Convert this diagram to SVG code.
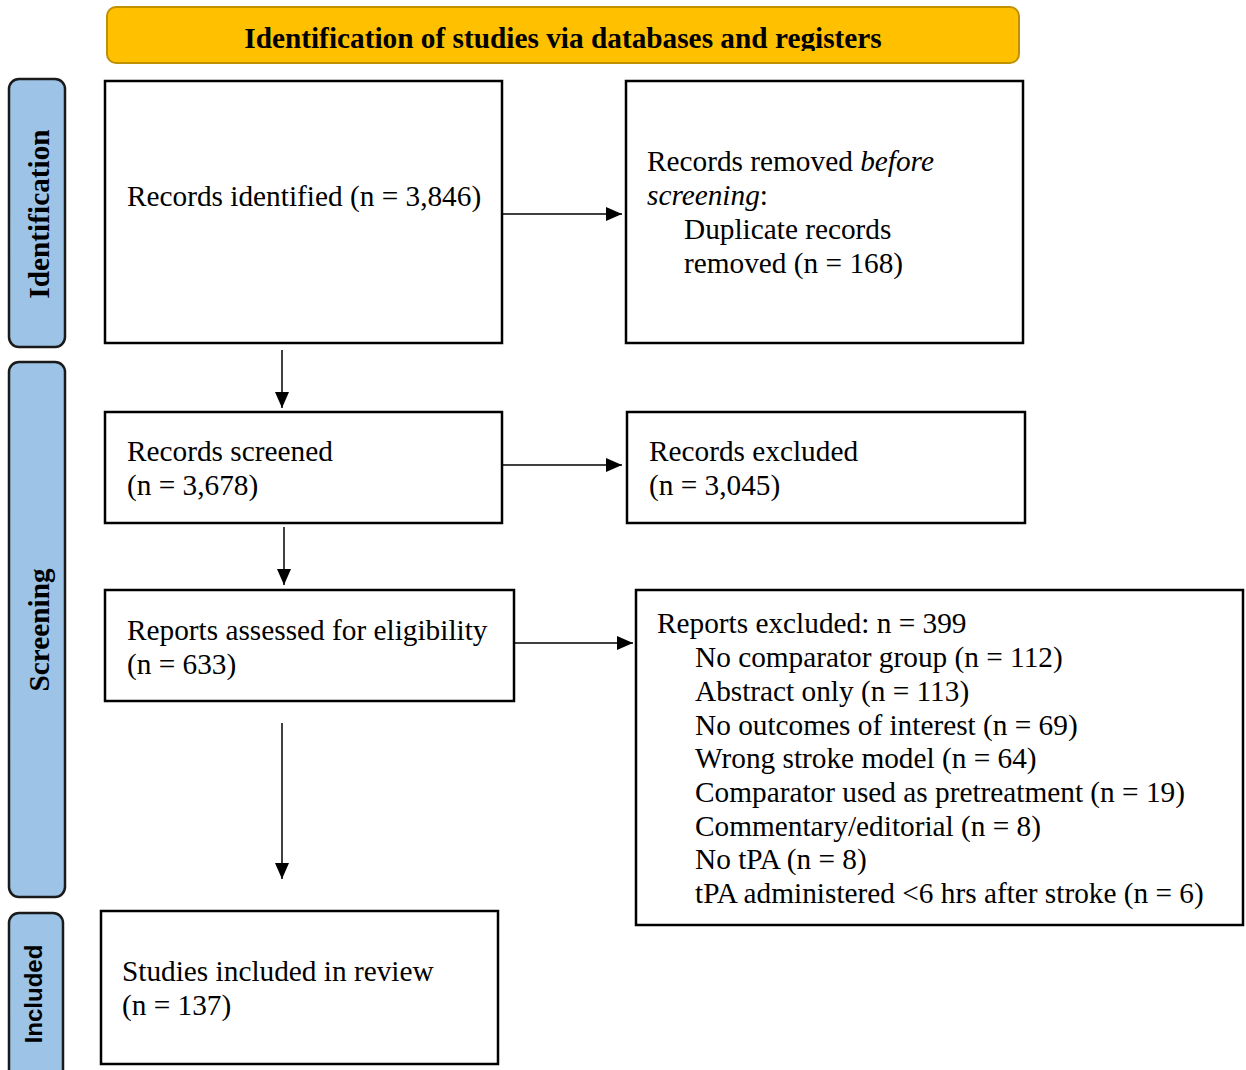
<svg xmlns="http://www.w3.org/2000/svg" width="1246" height="1070" viewBox="0 0 1246 1070">
<style>
.box{fill:#fff;stroke:#000;stroke-width:2.5}
.side{fill:#9DC3E6;stroke:#1a1a1a;stroke-width:2.5}
.t{font-family:"Liberation Serif","Times New Roman",serif;font-size:29.3px;fill:#000}
.sb{font-family:"Liberation Serif","Times New Roman",serif;font-size:29.3px;font-weight:bold;fill:#000}
.ss{font-family:"Liberation Sans",Arial,sans-serif;font-size:24px;font-weight:bold;fill:#000}
.c{stroke:#000;stroke-width:1.5;fill:none}
</style>
<defs>
<marker id="ah" markerWidth="16" markerHeight="14" refX="16" refY="7" orient="auto" markerUnits="userSpaceOnUse">
<path d="M0,0 L16,7 L0,14 Z" fill="#000"/>
</marker>
<clipPath id="tclip"><rect x="100" y="0" width="930" height="51"/></clipPath>
</defs>
<rect width="1246" height="1070" fill="#fff"/>

<g id="banner">
<rect x="107" y="7" width="912" height="56" rx="9" fill="#FFC000" stroke="#BF9000" stroke-width="2"/>
<text class="sb" x="563" y="48" text-anchor="middle" clip-path="url(#tclip)">Identification of studies via databases and registers</text>
</g>

<g id="label-identification">
<rect class="side" x="9" y="79" width="56" height="268" rx="10"/>
<text class="sb" transform="translate(49,214) rotate(-90)" text-anchor="middle">Identification</text>
</g>
<g id="label-screening">
<rect class="side" x="9" y="362" width="56" height="535" rx="10"/>
<text class="sb" transform="translate(49,630) rotate(-90)" text-anchor="middle">Screening</text>
</g>
<g id="label-included">
<rect class="side" x="9" y="913" width="54" height="170" rx="10"/>
<text class="ss" transform="translate(42,994) rotate(-90)" text-anchor="middle">Included</text>
</g>

<g id="records-identified">
<rect class="box" x="105" y="81" width="397" height="262"/>
<text class="t" x="127" y="206">Records identified (n = 3,846)</text>
</g>
<g id="records-removed">
<rect class="box" x="626" y="81" width="397" height="262"/>
<text class="t" x="647" y="171">Records removed <tspan font-style="italic">before</tspan></text>
<text class="t" x="647" y="205"><tspan font-style="italic">screening</tspan>:</text>
<text class="t" x="684" y="239">Duplicate records</text>
<text class="t" x="684" y="273">removed (n = 168)</text>
</g>
<g id="records-screened">
<rect class="box" x="105" y="412" width="397" height="111"/>
<text class="t" x="127" y="461">Records screened</text>
<text class="t" x="127" y="495">(n = 3,678)</text>
</g>
<g id="records-excluded">
<rect class="box" x="627" y="412" width="398" height="111"/>
<text class="t" x="649" y="461">Records excluded</text>
<text class="t" x="649" y="495">(n = 3,045)</text>
</g>
<g id="reports-assessed">
<rect class="box" x="105" y="590" width="409" height="111"/>
<text class="t" x="127" y="640">Reports assessed for eligibility</text>
<text class="t" x="127" y="674">(n = 633)</text>
</g>
<g id="reports-excluded">
<rect class="box" x="636" y="590" width="607" height="335"/>
<text class="t" x="657" y="633">Reports excluded: n = 399</text>
<text class="t" x="695" y="667">No comparator group (n = 112)</text>
<text class="t" x="695" y="701">Abstract only (n = 113)</text>
<text class="t" x="695" y="735">No outcomes of interest (n = 69)</text>
<text class="t" x="695" y="768">Wrong stroke model (n = 64)</text>
<text class="t" x="695" y="802">Comparator used as pretreatment (n = 19)</text>
<text class="t" x="695" y="836">Commentary/editorial (n = 8)</text>
<text class="t" x="695" y="869">No tPA (n = 8)</text>
<text class="t" x="695" y="903">tPA administered &lt;6 hrs after stroke (n = 6)</text>
</g>
<g id="studies-included">
<rect class="box" x="101" y="911" width="397" height="153"/>
<text class="t" x="122" y="981">Studies included in review</text>
<text class="t" x="122" y="1015">(n = 137)</text>
</g>

<g id="connectors">
<line class="c" x1="502" y1="214" x2="622" y2="214" marker-end="url(#ah)"/>
<line class="c" x1="282" y1="350" x2="282" y2="408" marker-end="url(#ah)"/>
<line class="c" x1="502" y1="465" x2="622" y2="465" marker-end="url(#ah)"/>
<line class="c" x1="284" y1="527" x2="284" y2="585" marker-end="url(#ah)"/>
<line class="c" x1="514" y1="643" x2="633" y2="643" marker-end="url(#ah)"/>
<line class="c" x1="282" y1="723" x2="282" y2="879" marker-end="url(#ah)"/>
</g>
</svg>
